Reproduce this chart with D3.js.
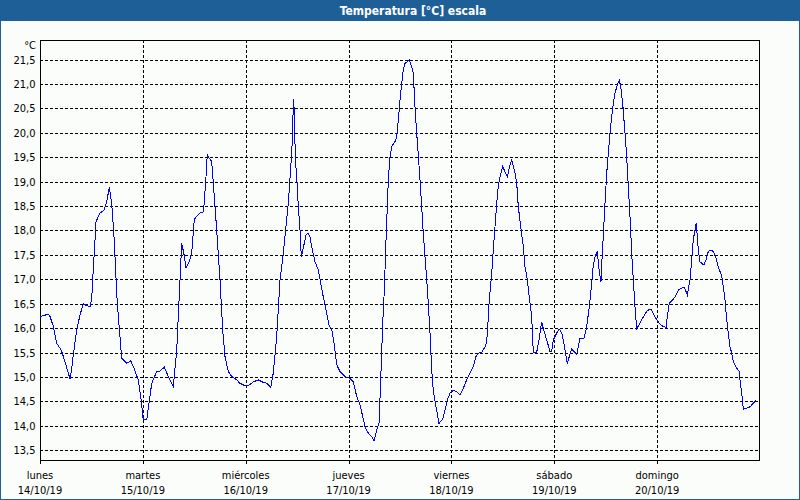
<!DOCTYPE html>
<html>
<head>
<meta charset="utf-8">
<script src="https://cdn.jsdelivr.net/npm/d3@7/dist/d3.min.js"></script>
<style>
  html, body { margin: 0; padding: 0; background: #fff; }
  svg { display: block; }
  text { font-family: "DejaVu Sans Condensed", "Liberation Sans", sans-serif; }
</style>
</head>
<body>
<svg id="chart" width="800" height="500"></svg>
<script>
// ---- data ----
const title = "Temperatura [°C] escala";
const unitLabel = "°C";
const startDate = new Date(2019, 9, 14, 0, 0);
const dayNames = ["lunes", "martes", "miércoles", "jueves", "viernes", "sábado", "domingo"];
const dayDates = ["14/10/19", "15/10/19", "16/10/19", "17/10/19", "18/10/19", "19/10/19", "20/10/19"];
const yTicks = [13.5, 14.0, 14.5, 15.0, 15.5, 16.0, 16.5, 17.0, 17.5, 18.0, 18.5, 19.0, 19.5, 20.0, 20.5, 21.0, 21.5];
const yDomain = [13.3, 21.9];
// hours since 14/10/19 00:00
const hours = [
  0, 0.77, 1.94, 2.33, 3.10, 3.90, 4.97, 5.83, 7.0, 7.40, 7.77, 8.56, 9.33, 10.10, 10.90, 11.74, 12.06, 12.44, 12.83, 13.07,
  14.0, 14.93, 15.56, 16.17, 16.73, 17.27, 18.04, 19.06, 20.23, 21.16, 21.93, 22.94, 23.50, 24.10, 24.90, 26.06, 27.23, 28.0,
  29.0, 29.94, 31.10, 31.90, 33.06, 33.30, 33.67, 34.07, 34.84, 35.40, 36.0, 37.33, 38.10, 38.27, 38.73, 39.04, 39.50, 40.06,
  40.44, 41.23, 42.0, 42.63, 43.17, 43.94, 44.73, 45.9, 46.67, 47.83, 48.6, 49.77, 50.94, 52.1, 52.9, 53.83, 54.44, 55.23,
  56.0, 56.77, 57.4, 57.94, 58.5, 58.96, 59.1, 59.34, 59.57, 60.04, 60.27, 60.67, 60.97, 61.44, 62.07, 62.6, 63.0, 63.4,
  64.17, 64.94, 65.5, 66.1, 66.9, 67.5, 68.06, 68.6, 69.23, 70.0, 71.17, 72.33, 73.1, 73.9, 74.67, 75.3, 75.83, 76.6, 77.4,
  77.93, 78.56, 79.1, 79.5, 79.73, 79.96, 80.27, 80.5, 80.73, 81.04, 81.27, 81.67, 82.06, 82.83, 83.23, 83.6, 84.0, 84.4,
  84.77, 85.17, 86.17, 86.5, 87.1, 87.5, 87.9, 88.27, 88.67, 89.06, 89.44, 89.83, 90.23, 90.6, 91.0, 91.4, 91.77, 92.4,
  93.1, 93.96, 94.5, 95.04, 95.67, 96.44, 97.23, 98.0, 98.77, 99.56, 100.33, 101.1, 101.73, 102.27, 103.06, 103.83, 104.23,
  104.46, 104.84, 105.4, 105.77, 106.17, 106.56, 106.94, 107.33, 107.96, 108.5, 109.04, 109.67, 110.06, 110.44, 110.83,
  111.23, 111.6, 112.16, 112.77, 113.17, 113.7, 114.33, 114.73, 115.1, 115.9, 116.43, 117.06, 117.44, 118.23, 119.0, 119.4,
  119.77, 120.56, 121.17, 121.73, 122.1, 122.5, 123.04, 123.5, 124.06, 124.6, 125.23, 125.6, 126.0, 126.93, 127.56, 128.17,
  128.73, 129.1, 129.5, 130.04, 130.5, 130.9, 131.2, 131.44, 131.83, 132.23, 132.6, 133.0, 133.4, 133.77, 134.17, 134.56,
  135.03, 135.17, 135.5, 135.96, 136.5, 136.9, 137.27, 137.67, 138.06, 138.44, 138.83, 139.23, 140.0, 140.77, 141.56,
  142.17, 142.73, 143.27, 143.9, 144.5, 145.06, 145.6, 146.07, 146.37, 146.84, 147.63, 148.17, 148.94, 149.73, 150.27,
  150.73, 151.04, 151.37, 151.67, 152.06, 152.44, 152.83, 153.13, 153.37, 153.6, 154.0, 154.4, 154.93, 155.4, 155.94,
  156.5, 157.1, 157.73, 158.27, 158.67, 159.06, 159.44, 159.83, 160.23, 160.6, 161.0, 161.4, 161.77, 162.17, 162.56,
  163.17, 163.33, 163.73, 164.1, 164.9, 165.67, 166.44, 167.0
];
const temps = [
  16.22, 16.26, 16.28, 16.24, 16.04, 15.69, 15.55, 15.31, 14.96, 15.18, 15.45, 15.96, 16.27, 16.50, 16.46, 16.44, 16.61, 17.20, 17.80, 18.18,
  18.36, 18.41, 18.59, 18.88, 18.56, 17.87, 16.51, 15.38, 15.28, 15.33, 15.18, 14.94, 14.60, 14.12, 14.12, 14.87, 15.11, 15.12,
  15.20, 15.01, 14.80, 15.55, 17.74, 17.64, 17.48, 17.23, 17.36, 17.53, 18.23, 18.36, 18.38, 18.52, 19.10, 19.55, 19.48, 19.41,
  18.97, 18.01, 16.99, 15.96, 15.42, 15.11, 15.01, 14.94, 14.87, 14.82, 14.82, 14.90, 14.94, 14.89, 14.87, 14.79, 15.08, 15.83,
  16.99, 17.53, 18.08, 18.56, 19.27, 19.99, 20.69, 20.47, 19.51, 18.90, 18.49, 18.01, 17.46, 17.64, 17.91, 17.94, 17.87, 17.67,
  17.36, 17.19, 16.92, 16.64, 16.30, 16.03, 15.99, 15.69, 15.25, 15.11, 15.01, 14.97, 14.90, 14.60, 14.43, 14.19, 13.98, 13.85, 13.78,
  13.69, 13.91, 14.05, 14.94, 15.52, 16.10, 16.64, 17.19, 17.80, 18.49, 19.03, 19.51, 19.72, 19.82, 19.92, 20.26, 20.67, 21.01,
  21.29, 21.42, 21.49, 21.42, 21.22, 20.53, 19.99, 19.55, 19.03, 18.49, 17.94, 17.46, 16.99, 16.51, 15.90, 15.14, 14.73, 14.39,
  14.05, 14.13, 14.32, 14.53, 14.67, 14.73, 14.70, 14.63, 14.77, 14.94, 15.08, 15.21, 15.42, 15.49, 15.50, 15.62, 15.72,
  16.03, 16.58, 17.12, 17.60, 18.08, 18.56, 18.90, 19.10, 19.31, 19.20, 19.10, 19.34, 19.44, 19.31, 19.17,
  18.97, 18.49, 18.08, 17.67, 17.26, 16.99, 16.51, 16.23, 15.51, 15.51, 15.76, 16.13, 15.99, 15.76, 15.52, 15.52,
  15.76, 15.90, 15.98, 15.90, 15.76, 15.55, 15.27, 15.42, 15.57, 15.52, 15.47, 15.62, 15.79, 15.79, 16.03, 16.44,
  16.92, 17.29, 17.46, 17.57, 17.16, 16.95, 17.53, 17.87, 18.56, 19.17, 19.58, 19.99, 20.33, 20.60, 20.81, 20.94,
  21.05, 21.08, 20.94, 20.60, 19.99, 19.51, 18.90, 18.28, 17.53, 16.99, 16.44, 15.99, 16.10, 16.23, 16.34,
  16.39, 16.37, 16.27, 16.17, 16.10, 16.05, 16.03, 16.01, 16.23, 16.51, 16.58, 16.64, 16.78, 16.82, 16.84,
  16.75, 16.68, 16.85, 16.99, 17.40, 17.81, 18.01, 18.15, 17.87, 17.60, 17.35, 17.33, 17.29, 17.40, 17.57,
  17.60, 17.57, 17.43, 17.26, 17.16, 17.06, 16.85, 16.58, 16.17, 15.90, 15.62, 15.49, 15.31, 15.25, 15.18,
  15.11, 14.94, 14.67, 14.34, 14.36, 14.39, 14.46, 14.52
];

// ---- layout ----
const W = 800, H = 500;
const M = { left: 40, top: 40, right: 40, bottom: 40 };
const frameColor = "#1f5f97";
const bgColor = "#fbfdfa";

const svg = d3.select("#chart");
const data = hours.map((h, i) => ({ t: d3.timeMinute.offset(startDate, Math.round(h * 60)), v: temps[i] }));
const endDate = d3.timeDay.offset(startDate, 7);

const x = d3.scaleTime().domain([startDate, endDate]).range([M.left, W - M.right]);
const y = d3.scaleLinear().domain(yDomain).range([H - M.bottom, M.top]);

// background + frame
svg.append("rect").attr("x", 0).attr("y", 0).attr("width", W).attr("height", H).attr("fill", bgColor);
svg.append("rect").attr("x", 0.5).attr("y", 0.5).attr("width", W - 1).attr("height", H - 1)
  .attr("fill", "none").attr("stroke", frameColor).attr("stroke-width", 1);
svg.append("rect").attr("x", 0).attr("y", 0).attr("width", W).attr("height", 21).attr("fill", frameColor);
svg.append("text").attr("x", 413).attr("y", 14.5).attr("text-anchor", "middle")
  .attr("fill", "#fff").attr("font-weight", "bold").attr("font-size", "12px").text(title);

// horizontal gridlines + y labels
const dayTicks = d3.range(7).map(d => d3.timeDay.offset(startDate, d));
const gy = svg.append("g").attr("shape-rendering", "crispEdges");
gy.selectAll("line").data(yTicks).join("line")
  .attr("x1", M.left).attr("x2", W - M.right)
  .attr("y1", d => Math.round(y(d)) + 0.5).attr("y2", d => Math.round(y(d)) + 0.5)
  .attr("stroke", "#000").attr("stroke-dasharray", "3,2");

const yAxis = d3.axisLeft(y).tickValues(yTicks).tickSize(0).tickPadding(4)
  .tickFormat(d => d3.format(".1f")(d).replace(".", ","));
const ya = svg.append("g").attr("transform", `translate(${M.left - 0.5},0)`).call(yAxis);
ya.select(".domain").remove();
ya.selectAll("text").attr("font-size", "11px").attr("fill", "#000")
  .style("font-family", '"DejaVu Sans Condensed", "Liberation Sans", sans-serif');

svg.append("text").attr("x", M.left - 4).attr("y", 49).attr("text-anchor", "end")
  .attr("font-size", "11px").attr("fill", "#000").text(unitLabel);

// vertical gridlines
const gx = svg.append("g").attr("shape-rendering", "crispEdges");
gx.selectAll("line").data(dayTicks.slice(1)).join("line")
  .attr("x1", d => Math.round(x(d)) + 0.5).attr("x2", d => Math.round(x(d)) + 0.5)
  .attr("y1", M.top).attr("y2", H - M.bottom + 3)
  .attr("stroke", "#000").attr("stroke-dasharray", "3,2");

// x axis labels
const xAxis = d3.axisBottom(x).tickValues(dayTicks).tickSize(3).tickFormat(() => "");
const xa = svg.append("g").attr("transform", `translate(0,${H - M.bottom + 0.5})`).attr("shape-rendering", "crispEdges").call(xAxis);
xa.select(".domain").remove();
xa.selectAll(".tick line").attr("stroke", "#000");
const lab = svg.append("g");
lab.selectAll("text.day").data(dayTicks).join("text").attr("class", "day")
  .attr("x", d => x(d)).attr("y", 479).attr("text-anchor", "middle")
  .attr("font-size", "11px").attr("fill", "#000").text((d, i) => dayNames[i]);
lab.selectAll("text.date").data(dayTicks).join("text").attr("class", "date")
  .attr("x", d => x(d)).attr("y", 494).attr("text-anchor", "middle")
  .attr("font-size", "11px").attr("fill", "#000").text((d, i) => dayDates[i]);

// plot frame
svg.append("rect").attr("x", M.left + 0.5).attr("y", M.top + 0.5)
  .attr("width", W - M.left - M.right - 1).attr("height", H - M.top - M.bottom)
  .attr("fill", "none").attr("stroke", "#000").attr("stroke-width", 1).attr("shape-rendering", "crispEdges");

// temperature line
const line = d3.line().x(d => x(d.t)).y(d => y(d.v));
svg.append("path").datum(data).attr("d", line)
  .attr("fill", "none").attr("stroke", "#0000ff").attr("stroke-width", 1)
  .attr("shape-rendering", "crispEdges");
</script>
</body>
</html>
